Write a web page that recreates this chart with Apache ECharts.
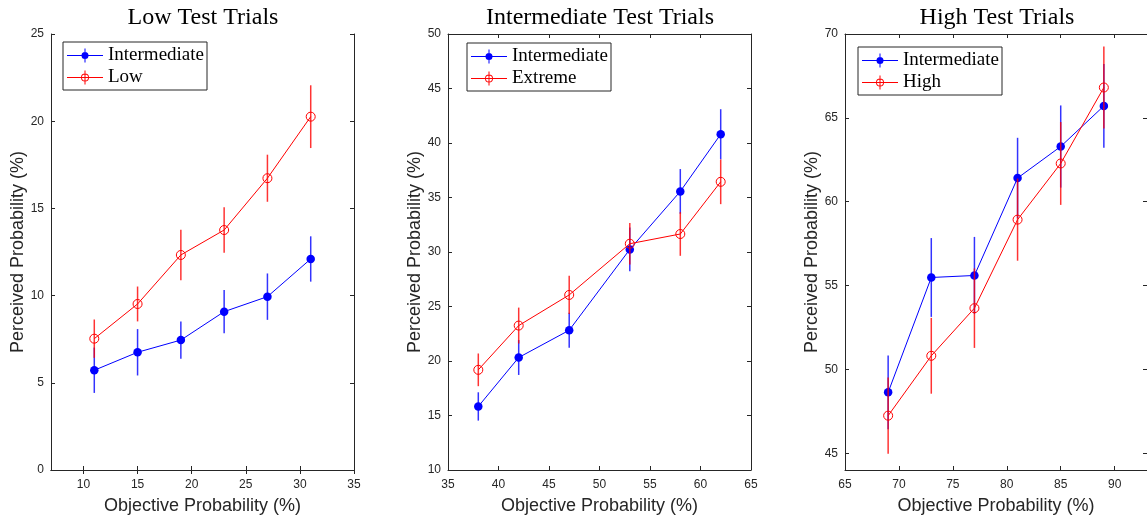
<!DOCTYPE html>
<html>
<head>
<meta charset="utf-8">
<script src="https://cdn.jsdelivr.net/npm/echarts@6/dist/echarts.min.js"></script>
<style>html,body{margin:0;padding:0;background:#fff;}#c{width:1147px;height:527px;}</style>
</head>
<body>
<div id="c"></div>
<script>
// ---- Data ----
const titles = ['Low Test Trials', 'Intermediate Test Trials', 'High Test Trials'];
const otherNames = ['Low', 'Extreme', 'High'];

const xLow = [11, 15, 19, 23, 27, 31];
const lowInter = [5.72, 6.75, 7.45, 9.08, 9.94, 12.1];
const lowInterErr = [1.3, 1.33, 1.07, 1.24, 1.33, 1.3];
const lowLow = [7.53, 9.52, 12.33, 13.76, 16.73, 20.26];
const lowLowErr = [1.1, 1.0, 1.45, 1.3, 1.35, 1.8];

const xMid = [38, 42, 47, 53, 58, 62];
const midInter = [15.83, 20.32, 22.82, 30.24, 35.56, 40.8];
const midInterErr = [1.3, 1.6, 1.6, 2.0, 2.05, 2.3];
const midExt = [19.19, 23.25, 26.06, 30.76, 31.65, 36.44];
const midExtErr = [1.5, 1.65, 1.75, 1.9, 2.0, 2.05];

const xHigh = [69, 73, 77, 81, 85, 89];
const highInter = [48.63, 55.48, 55.6, 61.41, 63.29, 65.71];
const highInterErr = [2.2, 2.35, 2.3, 2.4, 2.45, 2.5];
const highHigh = [47.24, 50.81, 53.65, 58.93, 62.28, 66.81];
const highHighErr = [2.27, 2.26, 2.37, 2.45, 2.47, 2.45];

const xTicks = [[10, 15, 20, 25, 30, 35], [35, 40, 45, 50, 55, 60, 65], [65, 70, 75, 80, 85, 90]];
const yTicks = [[0, 5, 10, 15, 20, 25], [10, 15, 20, 25, 30, 35, 40, 45, 50], [45, 50, 55, 60, 65, 70]];
const xRanges = [[7, 35], [35, 65], [65, 93]];
const yRanges = [[0, 25], [10, 50], [44, 70]];

const panels = [
  {x: xLow, a: lowInter, ae: lowInterErr, b: lowLow, be: lowLowErr},
  {x: xMid, a: midInter, ae: midInterErr, b: midExt, be: midExtErr},
  {x: xHigh, a: highInter, ae: highInterErr, b: highHigh, be: highHighErr}
];

// ---- Layout / style ----
const BLUE = '#0000ff', RED = '#ff0000', AX = '#262626';
const gridLefts = [51, 448, 845];
const legendPos = [[63, 42], [467, 43], [858, 47]];
const serif = 'Liberation Serif';
const sans = 'Liberation Sans';

// legend icons: line + marker + vertical error bar (36 x 14 box)
const ICON_FILLED = 'path://M0,6.5 H36 V7.5 H0 Z M17.5,0 H18.5 V14 H17.5 Z M21.5,7 A3.5,3.5 0 1,1 14.5,7 A3.5,3.5 0 1,1 21.5,7 Z';
const ICON_OPEN = 'path://M0,6.5 H36 V7.5 H0 Z M17.5,0 H18.5 V14 H17.5 Z M22,7 A4,4 0 1,1 14,7 A4,4 0 1,1 22,7 Z M21.1,7 A3.1,3.1 0 1,0 14.9,7 A3.1,3.1 0 1,0 21.1,7 Z';

const grids = [], xAxes = [], yAxes = [], series = [], titleArr = [], legends = [];

function errRender(color) {
  return function (params, api) {
    const x = api.value(0), y = api.value(1), e = api.value(2);
    const p1 = api.coord([x, y - e]);
    const p2 = api.coord([x, y + e]);
    return {
      type: 'line',
      shape: {x1: p1[0], y1: p1[1], x2: p2[0], y2: p2[1]},
      style: {stroke: color, lineWidth: 1.5, opacity: 0.8}
    };
  };
}

panels.forEach((p, i) => {
  grids.push({left: gridLefts[i], top: 34, width: 303, height: 436, containLabel: false});
  const common = {
    type: 'value', gridIndex: i, splitLine: {show: false},
    axisLine: {show: true, lineStyle: {color: AX, width: 1}}
  };
  xAxes.push(Object.assign({}, common, {
    min: xRanges[i][0], max: xRanges[i][1], position: 'bottom',
    axisTick: {show: true, inside: true, length: 4, lineStyle: {color: AX}, customValues: xTicks[i]},
    axisLabel: {show: true, customValues: xTicks[i], color: AX, fontFamily: sans, fontSize: 12, margin: 9},
    name: 'Objective Probability (%)', nameLocation: 'middle', nameGap: 27,
    nameTextStyle: {fontFamily: sans, fontSize: 18, color: AX}
  }));
  xAxes.push(Object.assign({}, common, {
    min: xRanges[i][0], max: xRanges[i][1], position: 'top',
    axisTick: {show: true, inside: true, length: 4, lineStyle: {color: AX}, customValues: xTicks[i]},
    axisLabel: {show: false}
  }));
  yAxes.push(Object.assign({}, common, {
    min: yRanges[i][0], max: yRanges[i][1], position: 'left',
    axisTick: {show: true, inside: true, length: 4, lineStyle: {color: AX}, customValues: yTicks[i]},
    axisLabel: {show: true, customValues: yTicks[i], color: AX, fontFamily: sans, fontSize: 12, margin: 7},
    name: 'Perceived Probability (%)', nameLocation: 'middle', nameGap: 24,
    nameTextStyle: {fontFamily: sans, fontSize: 18, color: AX}
  }));
  yAxes.push(Object.assign({}, common, {
    min: yRanges[i][0], max: yRanges[i][1], position: 'right',
    axisTick: {show: true, inside: true, length: 4, lineStyle: {color: AX}, customValues: yTicks[i]},
    axisLabel: {show: false}
  }));

  const xi = 2 * i, yi = 2 * i;
  const aData = p.x.map((x, k) => [x, p.a[k]]);
  const bData = p.x.map((x, k) => [x, p.b[k]]);
  const aErr = p.x.map((x, k) => [x, p.a[k], p.ae[k]]);
  const bErr = p.x.map((x, k) => [x, p.b[k], p.be[k]]);

  series.push({
    type: 'line', name: 'Intermediate', xAxisIndex: xi, yAxisIndex: yi, data: aData,
    symbol: 'circle', symbolSize: 8.5, z: 3, animation: false,
    lineStyle: {color: BLUE, width: 1}, itemStyle: {color: BLUE}
  });
  series.push({
    type: 'custom', name: 'err-a-' + i, xAxisIndex: xi, yAxisIndex: yi, data: aErr, z: 4,
    renderItem: errRender(BLUE), animation: false, encode: {x: 0, y: 1}
  });
  series.push({
    type: 'line', name: otherNames[i], xAxisIndex: xi, yAxisIndex: yi, data: bData,
    symbol: 'circle', symbolSize: 9, z: 5, animation: false,
    lineStyle: {color: RED, width: 1},
    itemStyle: {color: 'rgba(255,255,255,0)', borderColor: RED, borderWidth: 1}
  });
  series.push({
    type: 'custom', name: 'err-b-' + i, xAxisIndex: xi, yAxisIndex: yi, data: bErr, z: 6,
    renderItem: errRender(RED), animation: false, encode: {x: 0, y: 1}
  });

  titleArr.push({
    text: titles[i], left: gridLefts[i] + 147, top: 1, textAlign: 'center',
    textStyle: {fontFamily: serif, fontSize: 24, fontWeight: 'normal', color: '#000'}
  });

  legends.push({
    data: [
      {name: 'Intermediate', icon: ICON_FILLED, itemStyle: {color: BLUE, borderWidth: 0}},
      {name: otherNames[i], icon: ICON_OPEN, itemStyle: {color: RED, borderWidth: 0}}
    ],
    orient: 'vertical',
    left: legendPos[i][0], top: legendPos[i][1],
    backgroundColor: '#fff', borderColor: AX, borderWidth: 1,
    padding: [4, 3, 3, 4], itemGap: 3, itemWidth: 36, itemHeight: 14,
    symbolKeepAspect: false,
    selectedMode: false,
    textStyle: {fontFamily: serif, fontSize: 19, color: '#000'}
  });
});

const chart = echarts.init(document.getElementById('c'), null, {renderer: 'canvas'});
chart.setOption({
  animation: false,
  backgroundColor: '#fff',
  title: titleArr,
  legend: legends,
  grid: grids,
  xAxis: xAxes,
  yAxis: yAxes,
  series: series
});
</script>
</body>
</html>
